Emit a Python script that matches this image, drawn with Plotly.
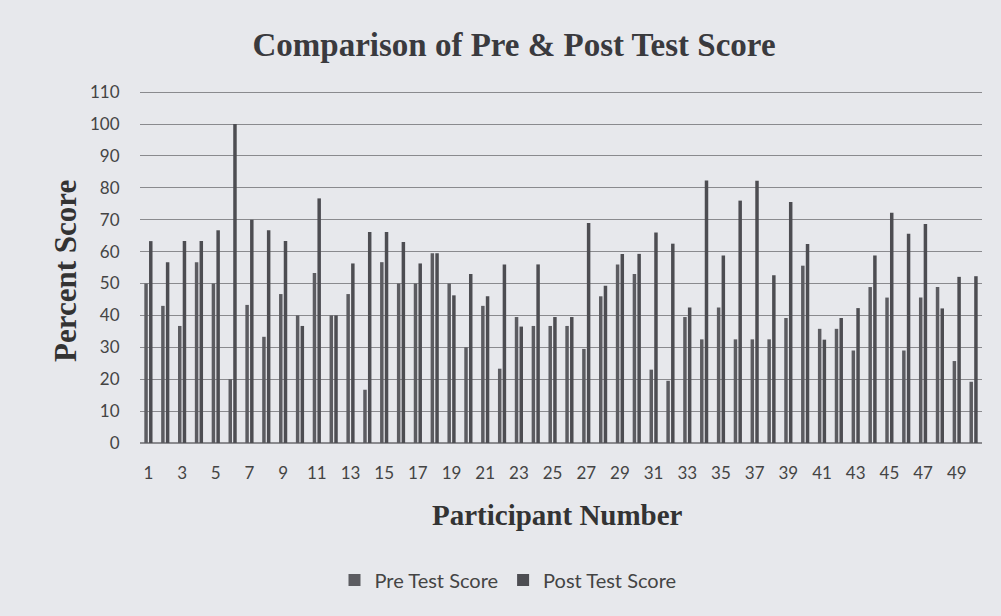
import plotly.graph_objects as go

participants = list(range(1, 51))
pre_scores = [50, 43, 36.7, 56.7, 50, 20, 43.3, 33.3, 46.7, 40,
              53.3, 40, 46.7, 16.7, 56.7, 50, 50, 59.5, 50, 30,
              43, 23.3, 39.5, 36.7, 36.7, 36.7, 29.5, 46, 56, 53,
              23, 19.5, 39.5, 32.5, 42.5, 32.5, 32.5, 32.5, 39.2, 55.6,
              35.8, 35.8, 29, 48.9, 45.6, 29, 45.6, 48.9, 25.7, 19.2]
post_scores = [63.3, 56.7, 63.3, 63.3, 66.7, 100, 70, 66.7, 63.3, 36.7,
               76.7, 40, 56.3, 66.2, 66.2, 63, 56.3, 59.5, 46.3, 53,
               46, 56, 36.5, 56, 39.5, 39.5, 69, 49.3, 59.3, 59.3,
               66, 62.5, 42.5, 82.3, 58.8, 76, 82.2, 52.6, 75.6, 62.4,
               32.4, 39.2, 42.3, 58.8, 72.2, 65.6, 68.7, 42.2, 52.1, 52.3]
tick_labels = [str(i) for i in range(1, 51, 2)]
y_ticks = list(range(0, 111, 10))

W, H = 1001, 616
ML, MR, MT, MB = 140, 19, 89, 173
plot_w = W - ML - MR
plot_h = H - MT - MB

fig = go.Figure()
fig.add_trace(go.Bar(x=participants, y=pre_scores, name="Pre Test Score",
                     marker=dict(color="#5c5c61", line=dict(width=0))))
fig.add_trace(go.Bar(x=participants, y=post_scores, name="Post Test Score",
                     marker=dict(color="#4d4d52", line=dict(width=0))))

serif = "Liberation Serif"
sans = "Lato"
fig.update_layout(
    width=W, height=H,
    paper_bgcolor="#e7e8ec", plot_bgcolor="#e7e8ec",
    margin=dict(l=ML, r=MR, t=MT, b=MB),
    barmode="group", bargap=0.44, bargroupgap=0.26,
    title=dict(text="<b>Comparison of Pre &amp; Post Test Score</b>",
               x=514 / W, xanchor="center", xref="container",
               y=1 - 44 / H, yanchor="middle", yref="container",
               font=dict(family=serif, size=33, color="#3a3a3e")),
    xaxis=dict(range=[0.5, 50.5], tickmode="array", automargin=False,
               tickvals=list(range(1, 51, 2)), ticktext=tick_labels,
               showgrid=False, showline=False, zeroline=False,
               ticks="outside", ticklen=15, tickcolor="rgba(0,0,0,0)",
               tickfont=dict(family=sans, size=17, color="#444")),
    yaxis=dict(range=[0, 111], tickmode="array", tickvals=y_ticks,
               automargin=False, showgrid=True, gridcolor="#8a8a8e",
               gridwidth=1, zeroline=True, zerolinecolor="#8a8a8e", showline=False,
               ticks="outside", ticklen=16, tickcolor="rgba(0,0,0,0)",
               tickfont=dict(family=sans, size=17, color="#444")),
    legend=dict(orientation="h", x=(508 - ML) / plot_w, xanchor="center",
                y=-(580 - (H - MB)) / plot_h, yanchor="middle",
                font=dict(family=sans, size=20, color="#444"),
                bgcolor="rgba(0,0,0,0)"),
    annotations=[
        dict(text="<b>Participant Number</b>", xref="paper", yref="paper",
             x=(557 - ML) / plot_w, y=-(515 - (H - MB)) / plot_h,
             xanchor="center", yanchor="middle", showarrow=False,
             font=dict(family=serif, size=29, color="#333")),
        dict(text="<b>Percent Score</b>", textangle=-90, xref="paper", yref="paper",
             x=(65 - ML) / plot_w, y=((H - MB) - 271) / plot_h,
             xanchor="center", yanchor="middle", showarrow=False,
             font=dict(family=serif, size=31, color="#333")),
    ],
)

fig.write_html("out.html", config={"displayModeBar": False},
               post_script="document.body.style.margin='0';")
